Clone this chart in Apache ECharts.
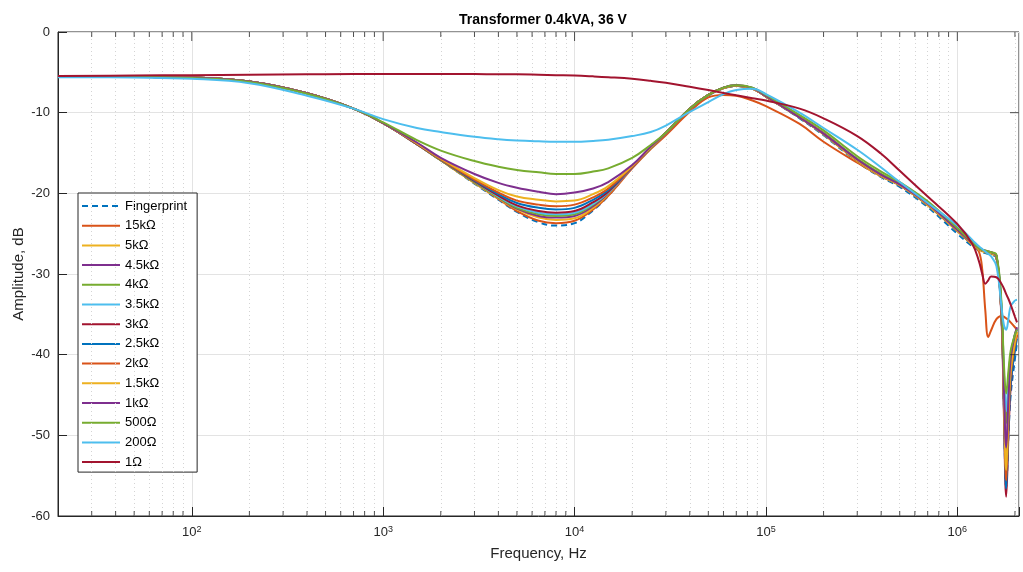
<!DOCTYPE html>
<html>
<head>
<meta charset="utf-8">
<script src="https://cdn.jsdelivr.net/npm/echarts@6/dist/echarts.min.js"></script>
<style>html,body{margin:0;padding:0;background:#fff}#c{width:1023px;height:572px}</style>
</head>
<body>
<div id="c"></div>
<script>
// Frequency grid, Hz
const FREQ = [20, 50, 100, 200, 400, 700, 1000, 1500, 2000, 3000, 4000, 5000, 6500, 8000,
  10000, 12500, 15000, 20000, 25000, 30000, 40000, 50000, 60000, 70000, 85000,
  100000, 150000, 200000, 300000, 400000, 500000, 700000,
  1000000, 1200000, 1300000, 1350000, 1400000, 1450000, 1500000, 1600000, 1700000, 1750000, 1800000, 1850000, 1900000, 2000000, 2050000];

const NAMES = ['Fingerprint', '15kΩ', '5kΩ', '4.5kΩ', '4kΩ', '3.5kΩ', '3kΩ', '2.5kΩ', '2kΩ', '1.5kΩ', '1kΩ', '500Ω', '200Ω', '1Ω'];

const FINGERPRINT = [-5.5,-5.55,-5.65,-6.15,-7.6,-9.5, -11.3,-13.9,-15.9,-18.8,-20.8,-22.3,-23.6,-24.0,-23.7,-22.1,-20.3,-16.8,-14.4,-12.6, -9.6,-7.9,-7.0,-6.7,-7.0,-8.0, -10.7,-12.8,-16.1,-18.0,-19.2,-21.7,-25.0,-26.6,-27.1,-27.3,-27.4,-27.5,-27.6,-28.0, -35,-46,-56.4,-50,-45,-40.5,-38.5];
const R15K = [-5.5,-5.55,-5.65,-6.15,-7.6,-9.5, -11.3,-13.9,-15.9,-18.7,-20.7,-22.2,-23.4,-23.7,-23.4,-22.0,-20.3,-16.9,-14.5,-12.8, -9.9,-8.1,-7.8,-7.9,-8.5,-9.2, -11.4,-13.6,-16.2,-17.9,-18.9,-21.2,-24.3,-26.1,-27.3,-29.5,-34.5,-37.8,-37.0,-35.6,-35.2,-35.3,-35.5,-35.7,-36.0,-36.6,-36.9];
const R5K = [-5.5,-5.55,-5.65,-6.15,-7.6,-9.5, -11.3,-13.9,-15.9,-18.7,-20.6,-22.0,-23.0,-23.3,-23.1,-21.8,-20.1,-16.8,-14.4,-12.6, -9.5,-7.8,-6.95,-6.65,-7.0,-8.0, -10.6,-12.7,-16.0,-17.9,-19.0,-21.5,-24.7,-26.4,-27.0,-27.2,-27.3,-27.4,-27.5,-27.9, -35,-45,-54.8,-48,-42,-38.5,-37.2];
const R4K5 = [-5.5,-5.55,-5.65,-6.15,-7.6,-9.5, -11.3,-13.9,-15.9,-18.6,-20.5,-21.9,-22.8,-23.0,-22.8,-21.6,-20.0,-16.8,-14.4,-12.6, -9.5,-7.8,-6.9,-6.6,-6.95,-7.95, -10.6,-12.6,-15.9,-17.8,-19.0,-21.4,-24.6,-26.3,-26.9,-27.1,-27.2,-27.3,-27.4,-27.8, -35,-44,-52,-46,-41,-38,-36.8];
const R4K = [-5.5,-5.55,-5.65,-6.15,-7.6,-9.5, -11.3,-13.9,-15.9,-18.6,-20.5,-21.8,-22.6,-22.8,-22.6,-21.4,-19.9,-16.7,-14.4,-12.5, -9.5,-7.8,-6.9,-6.6,-6.95,-7.9, -10.5,-12.5,-15.7,-17.6,-18.8,-21.2,-24.5,-26.2,-26.8,-27.0,-27.1,-27.2,-27.3,-27.7, -34,-42,-48.5,-44,-40,-37.5,-36.8];
const R3K5 = [-5.5,-5.55,-5.65,-6.15,-7.6,-9.5, -11.3,-13.9,-15.8,-18.5,-20.4,-21.6,-22.4,-22.6,-22.4,-21.3,-19.9,-16.7,-14.3,-12.5, -9.5,-7.8,-6.95,-6.65,-7.0,-8.0, -10.6,-12.6,-15.9,-17.8,-19.0,-21.4,-24.6,-26.3,-26.9,-27.1,-27.2,-27.3,-27.4,-27.8, -34,-42,-47,-43,-40,-37.5,-36.8];
const R3K = [-5.5,-5.55,-5.65,-6.15,-7.6,-9.5, -11.3,-13.9,-15.8,-18.5,-20.3,-21.5,-22.2,-22.4,-22.2,-21.1,-19.8,-16.7,-14.3,-12.5, -9.5,-7.8,-6.95,-6.65,-7.0,-8.0, -10.6,-12.6,-15.9,-17.8,-19.0,-21.4,-24.6,-26.3,-26.9,-27.1,-27.2,-27.3,-27.4,-27.8, -35.5,-47,-57.6,-50,-44,-39,-37.5];
const R2K5 = [-5.5,-5.55,-5.65,-6.15,-7.6,-9.5, -11.3,-13.8,-15.8,-18.4,-20.1,-21.2,-21.8,-22.0,-21.8,-20.8,-19.6,-16.7,-14.3,-12.5, -9.5,-7.8,-6.95,-6.65,-7.0,-8.0, -10.6,-12.6,-15.9,-17.8,-19.0,-21.4,-24.6,-26.3,-26.9,-27.1,-27.2,-27.3,-27.4,-27.8, -35,-46,-56.6,-49,-43.5,-39.5,-38];
const R2K = [-5.5,-5.55,-5.65,-6.15,-7.6,-9.5, -11.3,-13.8,-15.8,-18.3,-19.9,-20.9,-21.4,-21.6,-21.4,-20.5,-19.4,-16.7,-14.3,-12.5, -9.5,-7.8,-6.95,-6.65,-7.0,-8.0, -10.6,-12.6,-15.9,-17.8,-19.0,-21.4,-24.6,-26.3,-26.9,-27.1,-27.2,-27.3,-27.4,-27.8, -35,-45.5,-55.6,-48,-42.5,-38.8,-37.6];
const R1K5 = [-5.5,-5.55,-5.65,-6.15,-7.6,-9.5, -11.3,-13.8,-15.7,-18.1,-19.6,-20.4,-20.8,-21.0,-20.9,-20.1,-19.1,-16.6,-14.3,-12.5, -9.5,-7.8,-6.95,-6.65,-7.0,-8.0, -10.6,-12.6,-15.9,-17.8,-19.0,-21.4,-24.6,-26.3,-26.9,-27.1,-27.2,-27.3,-27.4,-27.8, -35,-45,-54.3,-47,-42,-38.4,-37.2];
const R1K = [-5.5,-5.55,-5.65,-6.15,-7.6,-9.5, -11.3,-13.7,-15.6,-17.6,-18.7,-19.3,-19.8,-20.1,-19.9,-19.4,-18.6,-16.5,-14.2,-12.5, -9.5,-7.8,-6.9,-6.6,-6.95,-7.95, -10.6,-12.6,-15.8,-17.7,-18.9,-21.3,-24.5,-26.2,-26.8,-27.0,-27.1,-27.2,-27.3,-27.7, -34.5,-44,-51.5,-45.5,-40.5,-37.5,-36.6];
const R500 = [-5.5,-5.55,-5.7,-6.2,-7.65,-9.5, -11.2,-13.4,-14.7,-16.0,-16.7,-17.1,-17.4,-17.6,-17.6,-17.3,-16.9,-15.6,-14.0,-12.5, -9.5,-7.8,-6.9,-6.6,-6.9,-7.8, -10.3,-12.2,-15.4,-17.3,-18.6,-21.0,-24.3,-26.1,-26.8,-27.0,-27.1,-27.2,-27.3,-27.6, -33.5,-41,-44.8,-42,-39.5,-37.5,-36.9];
const R200 = [-5.6,-5.65,-5.8,-6.35,-7.9,-9.5, -10.8,-11.9,-12.4,-13.0,-13.3,-13.45,-13.55,-13.6,-13.6,-13.5,-13.35,-12.9,-12.4,-11.6, -9.9,-8.7,-7.7,-7.2,-7.05,-7.7, -10.0,-11.9,-14.6,-16.8,-18.6,-21.2,-24.0,-25.8,-26.6,-26.9,-27.2,-27.5,-27.8,-29.0, -34.0,-36.3,-36.9,-35.5,-34.0,-33.3,-33.2];
const R1 = [-5.45,-5.4,-5.35,-5.3,-5.25,-5.2, -5.2,-5.2,-5.2,-5.2,-5.25,-5.25,-5.3,-5.35,-5.4,-5.5,-5.6,-5.8,-6.05,-6.3, -6.8,-7.2,-7.55,-7.85,-8.2,-8.5, -9.5,-10.7,-12.9,-15.1,-17.2,-20.4,-23.8,-26.3,-28.5,-30.0,-31.2,-30.8,-30.3,-30.4,-31.2,-31.8,-32.5,-33.1,-33.8,-35.3,-36.0];

const VALUES = [FINGERPRINT, R15K, R5K, R4K5, R4K, R3K5, R3K, R2K5, R2K, R1K5, R1K, R500, R200, R1];

// tick positions
const MAJOR_TICKS = [100, 1000, 10000, 100000, 1000000];
const MINOR_TICKS = [30,40,50,60,70,80,90, 200,300,400,500,600,700,800,900,
  2000,3000,4000,5000,6000,7000,8000,9000, 20000,30000,40000,50000,60000,70000,80000,90000,
  200000,300000,400000,500000,600000,700000,800000,900000, 2000000];
const Y_TICKS = [-50, -40, -30, -20, -10];
const X_MIN = 20, X_MAX = 2100000, Y_MIN = -60, Y_MAX = 0;

const COLORS = ['#0072BD','#D95319','#EDB120','#7E2F8E','#77AC30','#4DBEEE','#A2142F',
  '#0072BD','#D95319','#EDB120','#7E2F8E','#77AC30','#4DBEEE','#A2142F'];

const TXT = '#262626';
const FONT = '"Liberation Sans", Arial, sans-serif';

// legend icons: thin bar (solid) or dashes, inside a 38x14 box
const BOX = ' M0,0h0.01v0.01h-0.01z M37.99,13.99h0.01v0.01h-0.01z';
const ICON_SOLID = 'path://M0,6h38v2h-38z' + BOX;
const ICON_DASH = 'path://M0,6h6v2h-6z M10,6h6v2h-6z M20,6h6v2h-6z M30,6h6v2h-6z' + BOX;

const chart = echarts.init(document.getElementById('c'), null, {renderer: 'canvas'});

const dataSeries = NAMES.map((n, i) => ({
  name: n,
  type: 'line',
  data: FREQ.map((f, k) => [f, VALUES[i][k]]),
  symbol: 'none',
  showSymbol: false,
  smooth: 0.4,
  z: 10 + i,
  lineStyle: {color: COLORS[i], width: 2, type: i === 0 ? [6, 4] : 'solid'},
  itemStyle: {color: COLORS[i]},
  emphasis: {disabled: true}
}));

function tickSeries(data, size, offset) {
  return {
    type: 'scatter', silent: true, clip: false, z: 40,
    symbol: 'rect', symbolSize: size, symbolOffset: offset,
    itemStyle: {color: TXT},
    data: data
  };
}

const helperSeries = [
  {
    name: '_grid', type: 'line', data: [], silent: true, z: 1,
    markLine: {
      silent: true, symbol: 'none', animation: false,
      label: {show: false},
      lineStyle: {type: [1, 3], color: '#d4d4d4', width: 1},
      data: MINOR_TICKS.map(v => ({xAxis: v}))
    }
  },
  tickSeries(MINOR_TICKS.map(v => [v, Y_MIN]), [1, 5], [0, -2.5]),
  tickSeries(MINOR_TICKS.map(v => [v, Y_MAX]), [1, 5], [0, 2.5]),
  tickSeries(MAJOR_TICKS.map(v => [v, Y_MAX]), [1, 9], [0, 4.5]),
  tickSeries(Y_TICKS.map(v => [X_MAX, v]), [9, 1], [-4.5, 0])
];

const option = {
  animation: false,
  backgroundColor: '#fff',
  title: {
    text: 'Transformer 0.4kVA, 36 V',
    left: 538, top: 8, textAlign: 'center',
    textStyle: {fontFamily: FONT, fontSize: 14, fontWeight: 'bold', color: '#000'}
  },
  grid: {left: 58, right: 4, top: 32, bottom: 56, containLabel: false,
    show: true, borderColor: TXT, borderWidth: 1, backgroundColor: 'transparent'},
  legend: {
    data: NAMES.map((n, i) => ({name: n, icon: i === 0 ? ICON_DASH : ICON_SOLID})),
    orient: 'vertical',
    left: 78, top: 193,
    itemWidth: 38, itemHeight: 14, itemGap: 5.7,
    padding: [6, 10, 3, 4],
    backgroundColor: '#fff',
    borderColor: TXT, borderWidth: 1,
    textStyle: {fontFamily: FONT, fontSize: 13, color: '#000'},
    selectedMode: false
  },
  xAxis: {
    type: 'log', logBase: 10, min: X_MIN, max: X_MAX,
    name: 'Frequency, Hz', nameLocation: 'middle', nameGap: 30, nameMoveOverlap: false,
    nameTextStyle: {fontFamily: FONT, fontSize: 15, color: TXT},
    axisLine: {show: true, onZero: false, lineStyle: {color: TXT, width: 1}},
    axisTick: {show: true, inside: true, length: 9, lineStyle: {color: TXT}},
    axisLabel: {
      margin: 9,
      formatter: v => {
        const l = Math.log10(v), e = Math.round(l);
        if (Math.abs(l - e) > 1e-6) return '';
        return '{b|10}{s|' + e + '}';
      },
      rich: {
        b: {fontFamily: FONT, fontSize: 13, color: TXT, lineHeight: 14, verticalAlign: 'bottom', padding: [4, 0, 0, 0]},
        s: {fontFamily: FONT, fontSize: 9, color: TXT, lineHeight: 10, verticalAlign: 'top'}
      }
    },
    splitLine: {show: true, lineStyle: {color: '#e3e3e3', width: 1}}
  },
  yAxis: {
    type: 'value', min: Y_MIN, max: Y_MAX, interval: 10,
    name: 'Amplitude, dB', nameLocation: 'middle', nameGap: 32, nameMoveOverlap: false,
    nameTextStyle: {fontFamily: FONT, fontSize: 15, color: TXT},
    axisLine: {show: true, onZero: false, lineStyle: {color: TXT, width: 1}},
    axisTick: {show: true, inside: true, length: 9, lineStyle: {color: TXT}},
    axisLabel: {margin: 8, fontFamily: FONT, fontSize: 13, color: TXT},
    splitLine: {show: true, lineStyle: {color: '#e3e3e3', width: 1}}
  },
  series: helperSeries.concat(dataSeries)
};

chart.setOption(option);
</script>
</body>
</html>
